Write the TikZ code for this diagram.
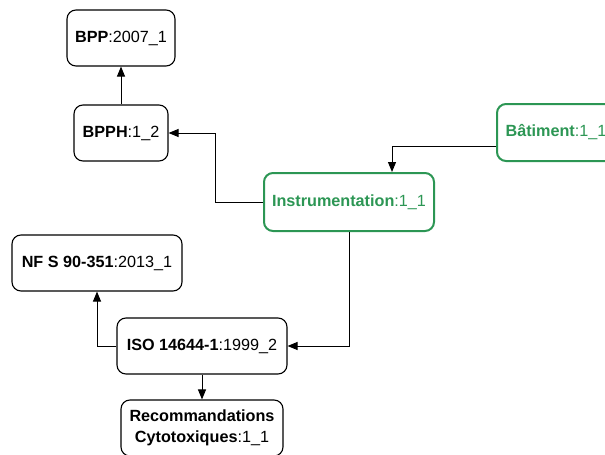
\documentclass[tikz,border=0pt]{standalone}
\usepackage{fontspec}
\setmainfont{Liberation Sans}
\usetikzlibrary{arrows.meta}
\definecolor{grn}{RGB}{44,150,84}
\begin{document}
\begin{tikzpicture}[x=1pt,y=-1pt,
  box/.style={draw=black,line width=1.1pt,rounded corners=9pt,align=center,
    inner sep=0pt,font=\fontsize{16.2}{21}\selectfont},
  gbox/.style={box,draw=grn,text=grn,line width=2pt},
  conn/.style={line width=1pt,-{Triangle[length=10pt,width=8pt]}}]
\useasboundingbox (0,0) rectangle (605,455);
\node[box,minimum width=108pt,minimum height=56pt] (bpp) at (121,38) {\textbf{BPP}:2007\_1};
\node[box,minimum width=94pt,minimum height=56pt] (bpph) at (121,133) {\textbf{BPPH}:1\_2};
\node[gbox,minimum width=170pt,minimum height=58pt] (instr) at (349,202) {\textbf{Instrumentation}:1\_1};
\node[gbox,minimum width=118pt,minimum height=57pt] (bat) at (556,132.5) {\textbf{Bâtiment}:1\_1};
\node[box,minimum width=170pt,minimum height=56pt] (nf) at (97,263) {\textbf{NF S 90-351}:2013\_1};
\node[box,minimum width=170pt,minimum height=56pt] (iso) at (202,346) {\textbf{ISO 14644-1}:1999\_2};
\node[box,minimum width=162pt,minimum height=56pt] (rec) at (202,428) {\textbf{Recommandations}\\\textbf{Cytotoxiques}:1\_1};
\draw[conn] (bpph.north) -- (bpp.south);
\draw[conn] (instr.west) -- ++(-48pt,0pt) |- (bpph.east);
\draw[conn] ([yshift=-14pt]bat.west) -| ([xshift=43pt]instr.north);
\draw[conn] (instr.south) |- (iso.east);
\draw[conn] (iso.west) -| (nf.south);
\draw[conn] (iso.south) -- (rec.north);
\end{tikzpicture}
\end{document}
